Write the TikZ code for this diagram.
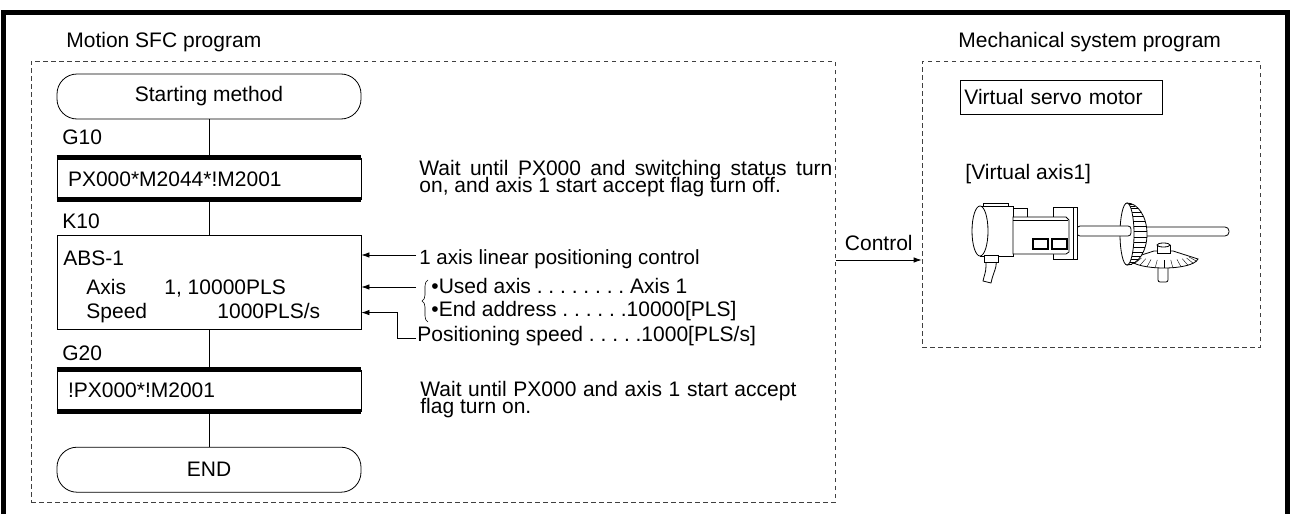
\documentclass[tikz,border=0pt]{standalone}
\usepackage{fontspec}
\setmainfont{Liberation Sans}
\usetikzlibrary{positioning, arrows.meta, decorations.pathreplacing}
\frenchspacing
\newcommand\notefont{\fontsize{21}{16.3}\selectfont\lineskiplimit=-100pt\relax}

\begin{document}
\begin{tikzpicture}[x=1pt, y=-1pt, >={Latex[length=8pt, width=5.5pt]},
    line width=0.8pt, font=\fontsize{21}{15}\selectfont, node distance=36pt,
    every node/.style={inner sep=0pt},
    frame/.style={line width=4.5pt},
    area/.style={draw=black!75, line width=0.7pt, dash pattern=on 4.5pt off 3.5pt},
    terminal/.style={draw, rounded corners=20pt, minimum width=304pt, minimum height=45pt},
    transition/.style={draw, minimum width=304pt, minimum height=41pt, text width=282pt, align=left},
    note/.style={anchor=north west, align=left, font=\notefont},
    bar/.style={line width=5pt},
    part/.style={draw, fill=white},
    tooth/.style={line width=0.4pt}]
  \useasboundingbox (0,0) rectangle (1290,514);
  \draw[frame] (3.5,514) -- (3.5,12.5) -- (1287.5,12.5) -- (1287.5,514);

  % Motion SFC program
  \node[area, minimum width=804pt, minimum height=441pt] (sfc) at (433,281.5) {};
  \node[anchor=base west] (sfclbl) at (66,47.5) {Motion SFC program};

  \node[terminal] (start) at (209,96.5) {Starting method};
  \node[transition, below=38.5pt of start] (g10) {PX000*M2044*!M2001};
  \node[draw, minimum width=304pt, minimum height=94pt, below=35.5pt of g10] (k10) {};
  \node[transition, below=39.5pt of k10] (g20) {!PX000*!M2001};
  \node[terminal, below=35.5pt of g20] (fin) {END};

  % step and transition numbers
  \node[anchor=base west] (g10lbl) at (62,144) {G10};
  \node[anchor=base west] (k10lbl) at (62,228.5) {K10};
  \node[anchor=base west] (g20lbl) at (62,360) {G20};

  % motion control step K10
  \node[anchor=base west] (abs) at (63,265.5) {ABS-1};
  \node[anchor=base west] (axis) at (86,294) {Axis};
  \node[anchor=base west] (axisval) at (164,294) {1, 10000PLS};
  \node[anchor=base west] (speed) at (86,318) {Speed};
  \node[anchor=base west] (speedval) at (217,318) {1000PLS/s};

  % flow line
  \path (start) edge (g10)
        (g10) edge (k10)
        (k10) edge (g20)
        (g20) edge (fin);
  \draw[bar] (g10.north west) -- (g10.north east)
             (g10.south west) -- (g10.south east)
             (g20.north west) -- (g20.north east)
             (g20.south west) -- (g20.south east);

  % notes on the right of the chart
  \node[note] (w1) at (419,160.2) {\makebox[413pt][s]{Wait until PX000 and switching status turn}\\
    on, and axis 1 start accept flag turn off.};
  \node[anchor=base west] (lin) at (419,264) {\fontsize{20.5}{15}\selectfont 1 axis linear positioning control};
  \node[anchor=base west] (used) at (431,293.3) {•Used axis . . . . . . . . Axis 1};
  \node[anchor=base west] (endad) at (431,316.7) {•End address . . . . . .10000[PLS]};
  \node[anchor=base west] (pos) at (417,341.7) {Positioning speed . . . . .1000[PLS/s]};
  \node[note] (w2) at (420,381.2) {\makebox[376pt][s]{Wait until PX000 and axis 1 start accept}\\
    flag turn on.};

  \coordinate (c1) at (416,255);
  \coordinate (c2) at (416,287);
  \coordinate (c3) at (416,338);
  \draw[->] (c1) -- (c1 -| k10.east);
  \draw[->] (c2) -- (c2 -| k10.east);
  \draw[->] (c3) -- ++(-19,0) |- (speed -| k10.east);
  \draw[line width=0.6pt, decorate, decoration={brace, amplitude=6pt}] (428,322) -- (428,280);

  % Mechanical system program
  \node[area, minimum width=338pt, minimum height=286pt] (mech) at (1091,204) {};
  \node[anchor=base west] (mechlbl) at (958,47) {Mechanical system program};
  \node[draw, anchor=north west, text width=194pt, inner xsep=4pt, minimum height=34pt, align=left] (vsm) at (960,80) {Virtual servo motor};
  \node[anchor=base west] (vax) at (965,179.5) {[Virtual axis1]};

  \coordinate (c4) at (836,260);
  \draw[->] (c4) -- (c4 -| mech.west);
  \node[anchor=base east] (ctl) at (913,250) {Control};

  % servo motor, shafts and bevel gears
  \draw[part, rounded corners=4pt] (1138,227) rectangle (1229,236);
  \draw[part, rounded corners=2pt] (1158,256) rectangle (1168,282);
  \draw[part] (1129,259) -- (1154,251) -- (1173,251) -- (1198,259)
    .. controls (1195,265) and (1180,268) .. (1164,268)
    .. controls (1148,268) and (1132,265) .. (1129,259) -- cycle;
  \foreach \a in {15,30,...,165}
    \draw[tooth] ({1164+26*cos(\a)},{256+4*sin(\a)}) -- ({1164+34*cos(\a)},{259+9*sin(\a)});
  \draw[part] (1157,245) rectangle (1170,253);
  \draw[part] (1163.5,245) ellipse [x radius=6.5, y radius=2];

  \draw[part] (1127,203) arc[start angle=-90, end angle=90, x radius=20, y radius=31] -- cycle;
  \foreach \a in {-75,-65,...,75}
    \draw[tooth] ({1127+7*cos(\a)},{234+31*sin(\a)}) -- ({1127+20*cos(\a)},{234+31*sin(\a)});
  \draw[part] (1127,234) ellipse [x radius=7, y radius=31];
  \draw[part, rounded corners=3pt] (1077,226) rectangle (1131,236);

  \draw[part] (1053,207) rectangle (1077,259);
  \draw (1073,207) -- (1073,259);
  \draw[part] (986,250) -- (986,266) .. controls (986,272) and (984,276) .. (983,281)
    -- (991,283) .. controls (992,277) and (995,271) .. (996,266) -- (997,250) -- cycle;
  \draw[part] (1009,208) rectangle (1027,219);
  \draw[part] (983,203) rectangle (1008,209);
  \draw[part] (980,206) rectangle (1013,256);
  \draw[part] (984,255) rectangle (998,262);
  \draw[part] (980,231) ellipse [x radius=8, y radius=25];
  \draw[part] (1013,217) -- (1066,217) -- (1069,220) -- (1069,252) -- (1066,254) -- (1013,254) -- cycle;
  \draw (1013,220.5) -- (1068,220.5);
  \draw[part, line width=1.2pt] (1033,239) rectangle (1048,249);
  \draw[part, line width=1.2pt] (1052,239) rectangle (1067,249);
\end{tikzpicture}
\end{document}
